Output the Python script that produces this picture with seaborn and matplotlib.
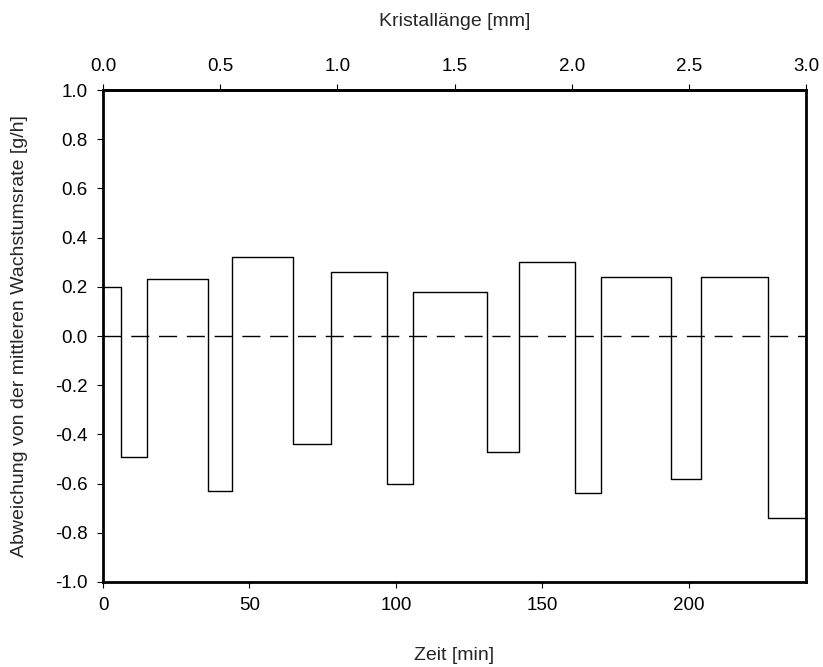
import numpy as np
import pandas as pd
import matplotlib
matplotlib.use("Agg")
import matplotlib.pyplot as plt
import matplotlib.ticker as mticker
import seaborn as sns

# Step start times [min] and growth-rate deviation [g/h] for each interval
t_start = [0, 6, 15, 36, 44, 65, 78, 97, 106, 131, 142, 161, 170, 194, 204, 227]
deviation = [0.20, -0.49, 0.23, -0.63, 0.32, -0.44, 0.26, -0.60,
             0.18, -0.47, 0.30, -0.64, 0.24, -0.58, 0.24, -0.74]
t_end = 240
mm_per_min = 3.0 / 240

x_ticks = [0, 50, 100, 150, 200]
y_ticks = [-1.0, -0.8, -0.6, -0.4, -0.2, 0.0, 0.2, 0.4, 0.6, 0.8, 1.0]
top_ticks = [0.0, 0.5, 1.0, 1.5, 2.0, 2.5, 3.0]

sns.set_style("white")
plt.rcParams["font.family"] = ["Liberation Sans", "DejaVu Sans"]
plt.rcParams["axes.unicode_minus"] = False

FS_TICK = 13.5
FS_LABEL = 14

df = pd.DataFrame({"t": t_start + [t_end], "d": deviation + [deviation[-1]]})

fig = plt.figure(figsize=(8.23, 6.67), dpi=100)
ax = fig.add_axes([103 / 823, 85 / 667, 703 / 823, 492 / 667])

sns.lineplot(data=df, x="t", y="d", ax=ax, color="black", linewidth=1.0,
             drawstyle="steps-post", estimator=None, sort=False)
ax.axhline(0, color="black", linewidth=1.0, dashes=(13, 7))

ax.set_xlim(0, t_end)
ax.set_ylim(-1.0, 1.0)
ax.set_xticks(x_ticks)
ax.set_yticks(y_ticks)
ax.yaxis.set_major_formatter(mticker.FormatStrFormatter("%.1f"))
ax.set_xlabel("Zeit [min]", fontsize=FS_LABEL)
ax.set_ylabel("Abweichung von der mittleren Wachstumsrate [g/h]", fontsize=FS_LABEL)
ax.xaxis.set_label_coords(0.5, -0.132)
ax.yaxis.set_label_coords(-0.107, 0.5)

for s in ax.spines.values():
    s.set_visible(True)
    s.set_color("black")
    s.set_linewidth(2.0)

ax.tick_params(axis="both", which="major", direction="out", length=4, width=0.8,
               labelsize=FS_TICK, colors="black", bottom=True, left=True, pad=7)

top = ax.secondary_xaxis("top", functions=(lambda t: t * mm_per_min,
                                          lambda l: l / mm_per_min))
top.set_xticks(top_ticks)
top.xaxis.set_major_formatter(mticker.FormatStrFormatter("%.1f"))
top.tick_params(direction="out", length=4, width=0.8, labelsize=FS_TICK,
                colors="black", pad=7)
top.set_xlabel("Kristallänge [mm]", fontsize=FS_LABEL)
top.xaxis.set_label_coords(0.5, 1.13, transform=ax.transAxes)
top.spines["top"].set_linewidth(2.0)

fig.savefig("out.png", dpi=100)
